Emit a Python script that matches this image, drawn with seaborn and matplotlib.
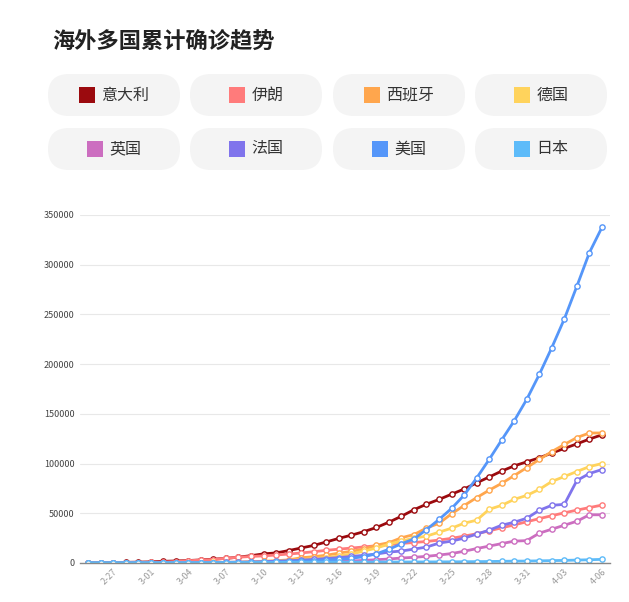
import matplotlib
matplotlib.use("Agg")
import matplotlib.pyplot as plt
import seaborn as sns
import pandas as pd
import numpy as np
from matplotlib.patches import FancyBboxPatch, Rectangle

dates = (["2-25", "2-26", "2-27", "2-28", "2-29"] + [f"3-{d:02d}" for d in range(1, 32)]
         + [f"4-{d:02d}" for d in range(1, 7)])
countries = ["意大利", "伊朗", "西班牙", "德国", "英国", "法国", "美国", "日本"]
colors = ["#9b0a0e", "#ff7b7b", "#ffa64d", "#ffd35c", "#cc6ec0", "#8074ec", "#5596f9", "#5dbbf9"]

italy = [229, 322, 400, 650, 888, 1128, 1694, 2036, 2502, 3089, 3858, 4636, 5883, 7375, 9172, 10149,
         12462, 15113, 17660, 21157, 24747, 27980, 31506, 35713, 41035, 47021, 53578, 59138, 63927,
         69176, 74386, 80589, 86498, 92472, 97689, 101739, 105792, 110574, 115242, 119827, 124632, 128948]
iran = [61, 95, 139, 245, 388, 593, 978, 1501, 2336, 2922, 3513, 4747, 5823, 6566, 7161, 8042, 9000,
        10075, 11364, 12729, 13938, 14991, 16169, 17361, 18407, 19644, 20610, 21638, 23049, 24811,
        27017, 29406, 32332, 35408, 38309, 41495, 44605, 47593, 50468, 53183, 55743, 58226]
spain = [6, 13, 15, 32, 45, 84, 120, 165, 222, 259, 400, 500, 673, 1073, 1695, 2277, 3146, 5232, 6391,
         7798, 9942, 11748, 13910, 17963, 20410, 25374, 28603, 35136, 39885, 49515, 57786, 65719,
         73235, 80110, 87956, 95923, 104118, 112065, 119199, 126168, 130759, 130759]
germany = [16, 18, 26, 48, 60, 120, 150, 190, 250, 400, 600, 700, 900, 1200, 1500, 1900, 2500, 3500,
           4500, 5500, 7000, 9000, 12000, 15000, 19000, 22000, 25000, 27000, 31000, 35000, 40000,
           43000, 54000, 58000, 64000, 68000, 74000, 82000, 87000, 92000, 97000, 100000]
uk = [13, 13, 15, 20, 23, 36, 40, 50, 85, 110, 160, 200, 270, 320, 370, 460, 590, 800, 1100, 1400,
      1500, 2000, 2600, 3300, 4000, 5000, 5700, 6700, 8000, 9500, 11800, 14500, 17000, 19500, 22000,
      22500, 30000, 34000, 38000, 42000, 48500, 48500]
france = [12, 14, 18, 38, 57, 100, 130, 190, 210, 290, 420, 700, 950, 1100, 1400, 1800, 2300, 2900,
          3600, 4500, 5400, 6600, 7700, 9000, 11000, 12000, 14000, 16000, 20000, 22000, 25000, 29000,
          33000, 38000, 41000, 45000, 53000, 58000, 59000, 83000, 90000, 94000]
usa = [53, 53, 59, 60, 62, 70, 76, 101, 122, 153, 221, 319, 435, 541, 704, 994, 1301, 1697, 2247,
       2943, 3680, 4663, 6411, 9197, 13779, 19367, 24192, 33592, 43781, 54856, 68211, 85435, 104126,
       123750, 143025, 164620, 189618, 216722, 245540, 278458, 312245, 337635]
japan = [157, 164, 186, 210, 230, 239, 254, 274, 293, 331, 360, 420, 461, 502, 530, 581, 639, 701, 773,
         839, 839, 878, 889, 924, 963, 1007, 1054, 1086, 1128, 1193, 1291, 1387, 1499, 1693, 1866,
         1953, 2178, 2381, 2617, 2935, 3271, 3654]
series = [italy, iran, spain, germany, uk, france, usa, japan]

rows = []
for c, vals in zip(countries, series):
    for i, v in enumerate(vals):
        rows.append({"idx": i, "date": dates[i], "country": c, "value": v})
df = pd.DataFrame(rows)

sns.set_theme(style="white")
plt.rcParams["font.family"] = ["Noto Sans CJK SC", "DejaVu Sans"]

W, H = 629, 602
fig = plt.figure(figsize=(W / 100, H / 100), dpi=100)
ax = fig.add_axes([80 / W, 39 / H, 530 / W, (563 - 215) / H])
sns.lineplot(data=df, x="idx", y="value", hue="country", hue_order=countries,
             palette=colors, linewidth=2, ax=ax, legend=False)
for line in ax.lines:
    col = line.get_color()
    line.set_marker("o")
    line.set_markersize(3.8)
    line.set_markerfacecolor("white")
    line.set_markeredgecolor(col)
    line.set_markeredgewidth(1)
    line.set_linestyle("-")
ax.set_xlim(-0.64, 41.64)
ax.set_ylim(0, 350000)
ax.set_yticks(np.arange(0, 350001, 50000))
ax.tick_params(axis="y", labelsize=6.5, colors="#444444", length=0, pad=4)
ticks = list(range(2, 42, 3))
ax.set_xticks(ticks)
ax.set_xticklabels([dates[i] for i in ticks], rotation=45, ha="right", rotation_mode="anchor",
                   fontsize=6.5, color="#999999")
ax.tick_params(axis="x", length=0, pad=3)
ax.yaxis.grid(True, color="#e8e8e8", linewidth=0.8)
ax.set_axisbelow(True)
for s in ["top", "right", "left"]:
    ax.spines[s].set_visible(False)
ax.spines["bottom"].set_color("#888888")
ax.spines["bottom"].set_linewidth(1)
ax.set_xlabel("")
ax.set_ylabel("")

ov = fig.add_axes([0, 0, 1, 1], zorder=-1)
ov.set_xlim(0, W)
ov.set_ylim(H, 0)
ov.axis("off")
ov.text(52, 42, "海外多国累计确诊趋势", fontsize=16, fontweight="bold", color="#222222", va="center")
pill_x = [48, 190, 333, 475]
pill_y = [74, 128]
pw, ph = 132, 42
for k, (c, col) in enumerate(zip(countries, colors)):
    x0 = pill_x[k % 4]
    y0 = pill_y[k // 4]
    ov.add_patch(FancyBboxPatch((x0, y0), pw, ph, boxstyle="round,pad=0,rounding_size=21",
                                facecolor="#f4f4f4", edgecolor="none"))
    tw = len(c) * 16
    total = 16 + 7 + tw
    sx = x0 + pw / 2 - total / 2
    cy = y0 + ph / 2
    ov.add_patch(Rectangle((sx, cy - 8), 16, 16, facecolor=col, edgecolor="none"))
    ov.text(sx + 23, cy, c, fontsize=11.5, color="#333333", va="center", ha="left")

fig.savefig("out.png", dpi=100)
